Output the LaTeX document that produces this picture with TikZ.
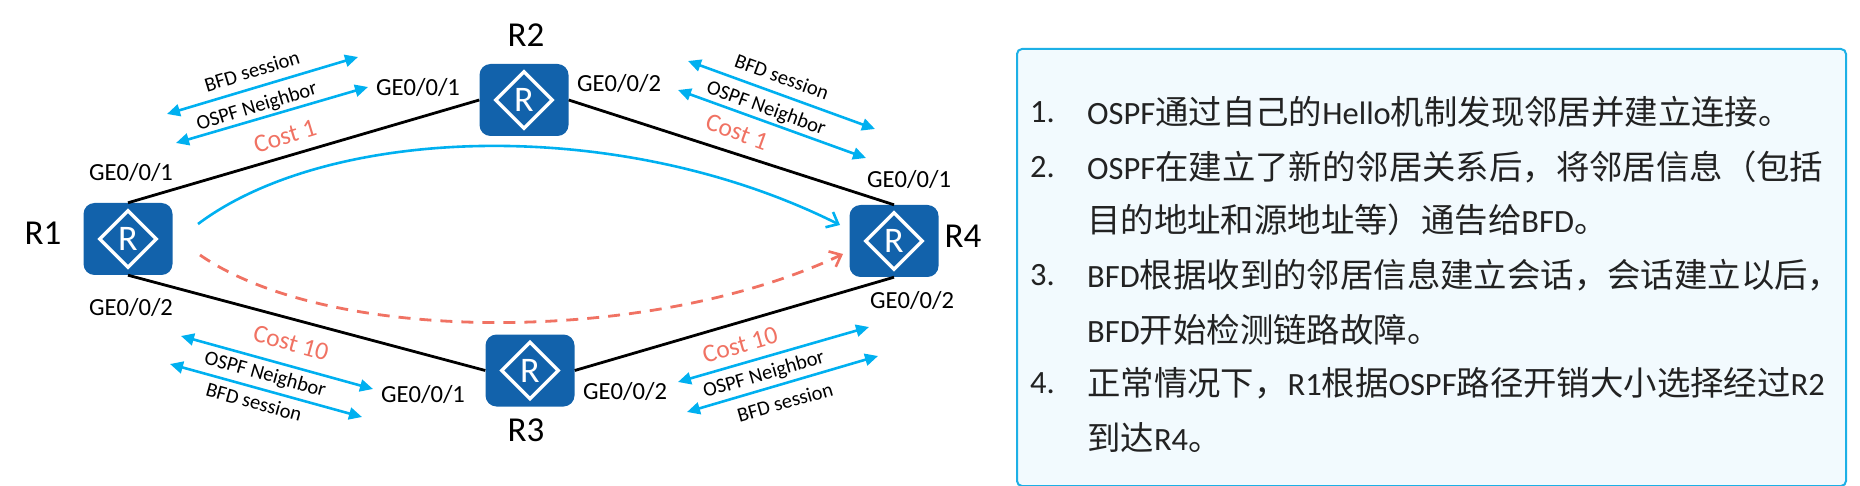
\documentclass[tikz,border=0pt]{standalone}
\usepackage{fontspec}
\setmainfont{Carlito}
\newfontfamily\cjk{Noto Sans CJK SC}
\usetikzlibrary{arrows.meta,shapes.geometric}
\definecolor{bfdblue}{HTML}{00B0F0}
\definecolor{costred}{HTML}{F07263}
\definecolor{routerblue}{HTML}{1262AB}
\definecolor{boxfill}{HTML}{F2FAFE}
\definecolor{boxline}{HTML}{1DB0E6}
\definecolor{bodyink}{HTML}{222222}
\newcommand{\fs}[1]{\fontsize{#1}{#1}\selectfont}
\newcommand{\zh}[1]{{\cjk\fontsize{33.4}{33.4}\selectfont #1}}
\tikzset{
  router/.style={fill=routerblue,rounded corners=11pt,minimum width=89pt,minimum height=72pt,inner sep=0pt},
  rmark/.style={diamond,draw=white,line width=3.4pt,minimum width=58pt,minimum height=58pt,inner sep=0pt,text=white,font=\fs{36}},
  rname/.style={font=\fs{35},inner sep=0pt},
  port/.style={font=\fs{24.6},inner sep=0pt},
  small/.style={font=\fs{20.5},inner sep=0pt},
  cost/.style={font=\fs{25.5},text=costred,inner sep=0pt},
  link/.style={line width=2.8pt,black},
  session/.style={bfdblue,line width=2.6pt,{Triangle[width=12pt,length=13pt]}-{Triangle[width=12pt,length=13pt]}},
  pathbest/.style={bfdblue,line width=2.6pt,-{Straight Barb[width=17pt,length=10pt,line width=2.6pt]}},
  pathalt/.style={costred,line width=2.8pt,dash pattern=on 12pt off 9pt,-{Straight Barb[width=17pt,length=10pt,line width=2.6pt]}},
  textbox/.style={draw=boxline,fill=boxfill,line width=2pt,rounded corners=5pt,minimum width=829pt,minimum height=437pt,inner sep=0pt},
  bodyline/.style={anchor=west,inner sep=0pt,text=bodyink,font=\fs{32.5}},
}
\begin{document}
\begin{tikzpicture}[x=1pt,y=-1pt]
\useasboundingbox (0,0) rectangle (1860,486);
\node[router] (r1) at (128,239) {};
\node[router] (r2) at (524,100) {};
\node[router] (r3) at (530,370.5) {};
\node[router] (r4) at (894,241) {};
\node[rmark] (m1) at (r1) {R};
\node[rmark] (m2) at (r2) {R};
\node[rmark] (m3) at (r3) {R};
\node[rmark] (m4) at (r4) {R};
\node[rname] (n1) at (43,233) {R1};
\node[rname] (n2) at (526,35) {R2};
\node[rname] (n3) at (526,430) {R3};
\node[rname] (n4) at (963,236) {R4};
\draw[link] (r1.north) -- (r2.west);
\draw[link] (r2.east) -- (r4.north);
\draw[link] (r1.south) -- (r3.west);
\draw[link] (r3.east) -- (r4.south);
\node[port] (p1) at (131,172) {GE0/0/1};
\node[port] (p2) at (418,87) {GE0/0/1};
\node[port] (p3) at (619,83) {GE0/0/2};
\node[port] (p4) at (909,179) {GE0/0/1};
\node[port] (p5) at (131,307) {GE0/0/2};
\node[port] (p6) at (423,394) {GE0/0/1};
\node[port] (p7) at (625,391) {GE0/0/2};
\node[port] (p8) at (912,300) {GE0/0/2};
\coordinate (a1) at (167,114); \coordinate (b1) at (358,57);
\coordinate (a2) at (176,143); \coordinate (b2) at (368,87);
\coordinate (a3) at (688,61);  \coordinate (b3) at (875,129);
\coordinate (a4) at (678,90);  \coordinate (b4) at (866,158);
\coordinate (a5) at (181,336); \coordinate (b5) at (373,389);
\coordinate (a6) at (170,364); \coordinate (b6) at (362,417);
\coordinate (a7) at (678,382); \coordinate (b7) at (869,327);
\coordinate (a8) at (687,412); \coordinate (b8) at (878,356);
\draw[session] (a1) -- (b1);
\draw[session] (a2) -- (b2);
\draw[session] (a3) -- (b3);
\draw[session] (a4) -- (b4);
\draw[session] (a5) -- (b5);
\draw[session] (a6) -- (b6);
\draw[session] (a7) -- (b7);
\draw[session] (a8) -- (b8);
\node[small,rotate=17] (t1) at (252,71) {BFD session};
\node[small,rotate=17] (t2) at (257,107) {OSPF Neighbor};
\node[small,rotate=-20] (t3) at (782,77) {BFD session};
\node[small,rotate=-20] (t4) at (766,109) {OSPF Neighbor};
\node[small,rotate=-15.5] (t5) at (265,375) {OSPF Neighbor};
\node[small,rotate=-15.5] (t6) at (254,402) {BFD session};
\node[small,rotate=16] (t7) at (764,375) {OSPF Neighbor};
\node[small,rotate=16] (t8) at (785,402) {BFD session};
\node[cost,rotate=17] (c1) at (285,136) {Cost 1};
\node[cost,rotate=-20] (c2) at (737,132) {Cost 1};
\node[cost,rotate=-15.5] (c3) at (291,343) {Cost 10};
\node[cost,rotate=16] (c4) at (740,345) {Cost 10};
\coordinate (s1) at (198,224); \coordinate (e1) at (840,225);
\coordinate (s2) at (200,255); \coordinate (e2) at (843,254);
\draw[pathbest] (s1) .. controls (330,125) and (620,115) .. (e1);
\draw[pathalt] (s2) .. controls (330,345) and (650,345) .. (e2);
\node[textbox,anchor=north west] (panel) at (1016,48) {};
\node[bodyline] (l1n) at (1030,112) {1.};
\node[bodyline] (l1) at (1087,112) {OSPF\zh{通过自己的}Hello\zh{机制发现邻居并建立连接。}};
\node[bodyline] (l2n) at (1030,167) {2.};
\node[bodyline] (l2) at (1087,167) {OSPF\zh{在建立了新的邻居关系后，将邻居信息（包括}};
\node[bodyline] (l3) at (1087,220) {\zh{目的地址和源地址等）通告给}BFD\zh{。}};
\node[bodyline] (l4n) at (1030,275) {3.};
\node[bodyline] (l4) at (1087,275) {BFD\zh{根据收到的邻居信息建立会话，会话建立以后，}};
\node[bodyline] (l5) at (1087,330) {BFD\zh{开始检测链路故障。}};
\node[bodyline] (l6n) at (1030,383) {4.};
\node[bodyline] (l6) at (1087,383) {\zh{正常情况下，}R1\zh{根据}OSPF\zh{路径开销大小选择经过}R2};
\node[bodyline] (l7) at (1087,438) {\zh{到达}R4\zh{。}};
\end{tikzpicture}
\end{document}
